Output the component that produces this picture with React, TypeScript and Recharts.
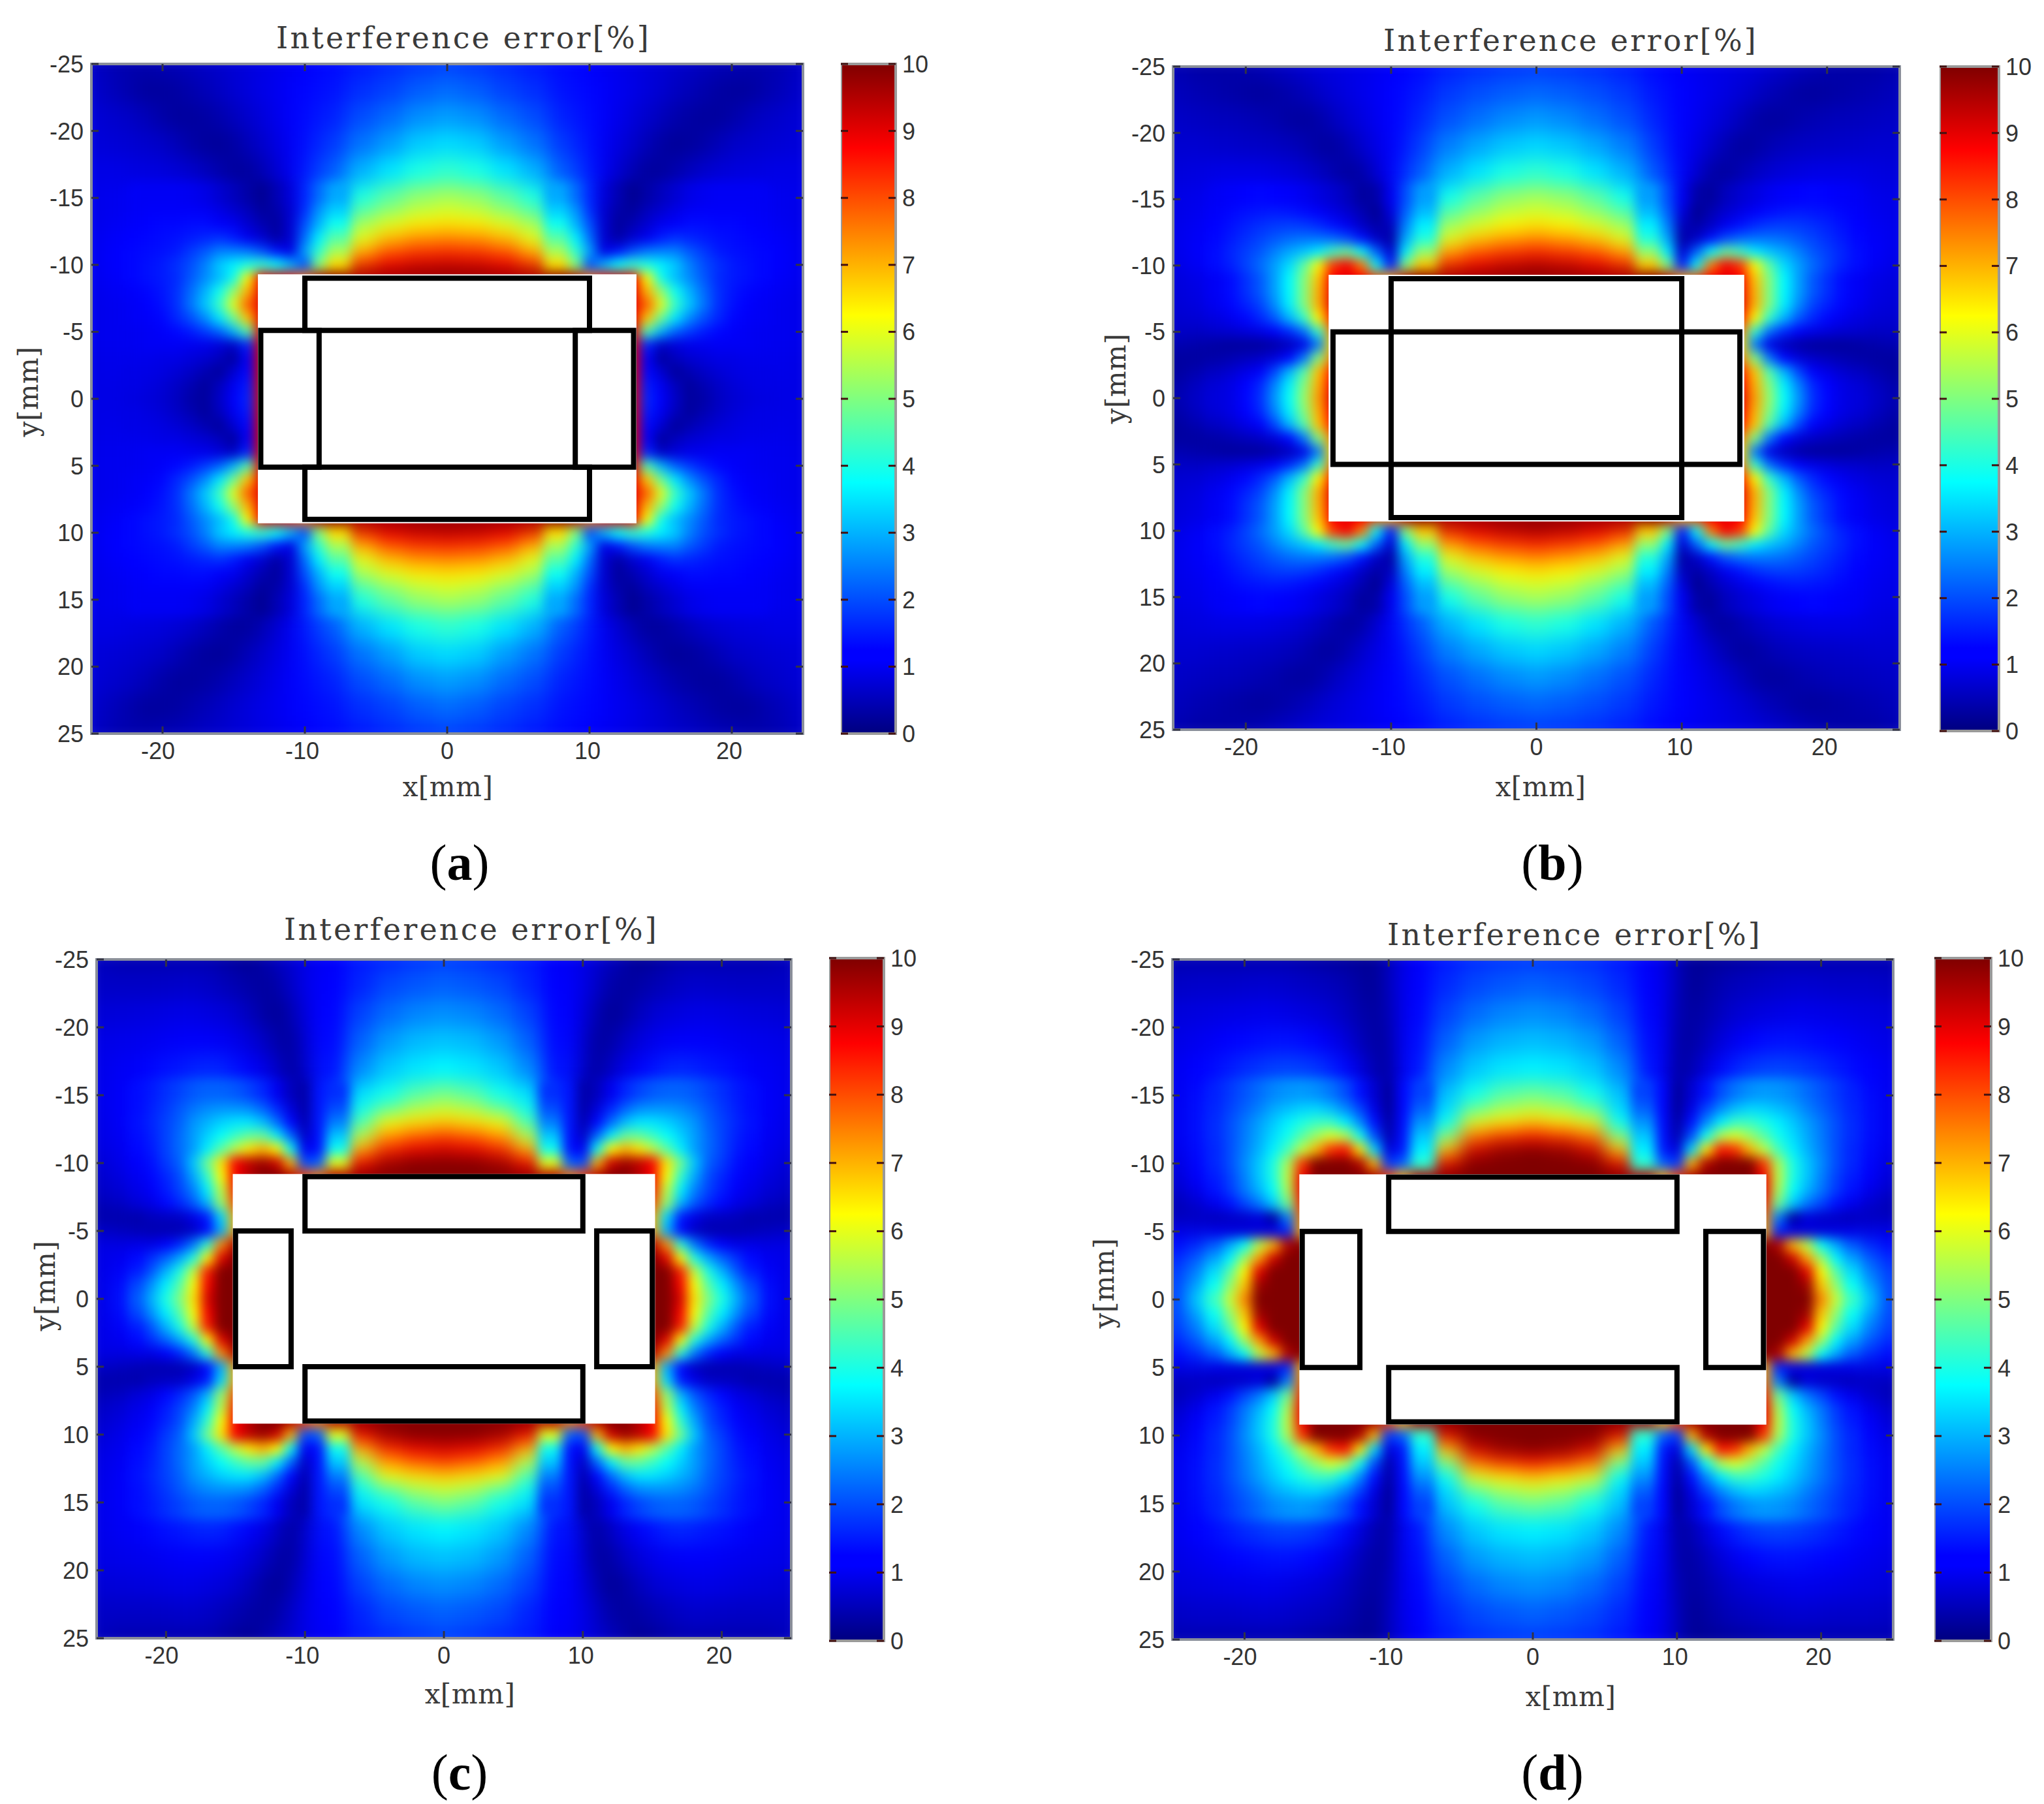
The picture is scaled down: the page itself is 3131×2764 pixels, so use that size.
import React from 'react';
import { ScatterChart, Scatter, XAxis, YAxis, ReferenceArea, BarChart, Bar } from 'recharts';

const xGrid = [-25,-23,-22,-21,-20,-19,-18,-17,-16,-15,-14,-13,-12,-11,-10,-9,-8,-6,-4,-2,0];
const yGrid = [-25,-23,-21,-19,-17,-15,-14,-13,-12,-11,-10,-9,-8,-7,-6,-5,-4,-3,-2,-1,0];
const xTickValues = [-20,-10,0,10,20];
const yTickValues = [-25,-20,-15,-10,-5,0,5,10,15,20,25];
const barTickValues = [0,1,2,3,4,5,6,7,8,9,10];
const titleText = 'Interference error[%]';

// Upper-left quadrant of each panel. Short rows end under the white mask.
const errorA = [
[.7,.5,.45,.45,.5,.55,.6,.7,.75,.85,.9,1.0,1.05,1.15,1.2,1.3,1.35,1.5,1.65,1.8,1.9],
[.75,.55,.4,.3,.3,.35,.45,.55,.65,.8,.9,1.0,1.1,1.2,1.3,1.35,1.45,1.7,1.9,2.15,2.3],
[.85,.75,.65,.55,.4,.3,.3,.35,.45,.6,.75,.9,1.05,1.2,1.35,1.45,1.6,2.0,2.3,2.65,2.8],
[.9,.85,.8,.75,.7,.55,.4,.3,.25,.35,.55,.75,.95,1.15,1.4,1.6,1.85,2.4,2.8,3.25,3.4],
[1.0,1.0,.95,.95,.9,.85,.75,.6,.45,.3,.3,.5,.8,1.1,1.5,1.85,2.2,3.0,3.5,4.0,4.2],
[1.05,1.1,1.15,1.15,1.15,1.15,1.1,1.0,.8,.6,.4,.2,.5,.9,1.6,2.3,2.9,4.0,4.6,5.1,5.3],
[1.05,1.1,1.15,1.2,1.2,1.2,1.2,1.15,1.0,.8,.6,.3,.4,.8,1.7,2.7,3.3,4.6,5.2,5.7,5.9],
[1.05,1.15,1.2,1.25,1.3,1.3,1.35,1.35,1.2,1.1,.8,.5,.3,.8,2.0,3.0,3.9,5.4,6.0,6.4,6.5],
[1.1,1.2,1.25,1.3,1.35,1.4,1.5,1.6,1.7,1.5,1.1,.8,.4,.8,2.3,3.6,4.6,6.0,6.9,7.3,7.4],
[1.1,1.25,1.3,1.35,1.4,1.5,1.8,2.1,2.5,2.5,2.4,2.0,1.4,1.0,2.8,4.2,5.4,7.0,7.9,8.2,8.3],
[1.1,1.25,1.3,1.4,1.5,1.7,2.0,2.5,3.2,3.6,4.0,4.2,3.8,3.0,2.0,5.0,6.6,8.3,8.9,9.2,9.3],
[1.1,1.2,1.3,1.4,1.5,1.65,2.1,2.6,3.1,3.9,6.2,8.8,9,8.5,7.5,9.5,10],
[1.05,1.15,1.2,1.3,1.45,1.7,2.3,3.0,3.9,5.2,7.0,9],
[1.05,1.1,1.15,1.25,1.4,1.7,2.4,3.2,4.3,6.0,7.8,9],
[1.05,1.1,1.15,1.2,1.3,1.6,2.0,2.6,3.5,4.8,6.8,9],
[1.05,1.1,1.1,1.15,1.2,1.3,1.5,1.8,2.2,3.0,4.5,9],
[1.05,1.1,1.1,1.15,1.15,1.15,1.1,1.05,.9,.7,1.6,9],
[1.0,1.05,1.05,1.05,1.0,1.0,.9,.8,.6,.3,1.2,9],
[1.0,1.05,1.0,1.0,.95,.85,.7,.5,.3,.8,1.3,9],
[1.0,1.0,1.0,.95,.85,.7,.5,.3,.6,1.1,1.5,9],
[1.0,1.0,.95,.9,.8,.65,.4,.3,.7,1.2,1.6,9],
];
const errorB = [
[.5,.4,.4,.4,.45,.5,.6,.7,.8,.9,.95,1.0,1.05,1.1,1.2,1.25,1.35,1.55,1.7,1.8,1.85],
[.6,.5,.45,.4,.35,.3,.35,.45,.55,.7,.85,.95,1.05,1.15,1.25,1.35,1.5,1.8,2.0,2.15,2.25],
[.7,.65,.6,.6,.55,.5,.45,.35,.3,.4,.6,.8,.95,1.1,1.25,1.4,1.65,2.05,2.35,2.6,2.75],
[.8,.8,.75,.75,.7,.7,.65,.6,.5,.35,.3,.5,.75,1.0,1.2,1.5,1.9,2.5,2.9,3.2,3.35],
[.9,.95,1.0,1.0,1.0,1.0,.95,.9,.8,.65,.5,.3,.4,.8,1.2,1.7,2.2,3.0,3.5,4.0,4.2],
[1.0,1.05,1.15,1.2,1.25,1.3,1.25,1.2,1.1,.95,.8,.6,.3,.4,1.1,2.0,2.8,3.9,4.6,5.1,5.3],
[1.0,1.1,1.2,1.3,1.4,1.45,1.5,1.45,1.35,1.2,1.0,.8,.5,.2,.9,2.2,3.1,4.6,5.2,5.7,5.9],
[1.05,1.15,1.25,1.4,1.55,1.7,1.8,1.85,1.8,1.65,1.4,1.1,.7,.4,.6,2.5,3.6,5.3,5.9,6.3,6.5],
[1.05,1.2,1.3,1.5,1.7,1.9,2.1,2.3,2.4,2.4,2.3,2.0,1.4,.7,.4,2.9,4.1,6.0,6.8,7.2,7.4],
[1.05,1.2,1.35,1.6,1.85,2.1,2.5,2.9,3.2,3.6,4.4,4.8,3.8,2.2,.8,3.6,5.2,7.2,7.9,8.2,8.4],
[1.0,1.2,1.35,1.55,1.9,2.3,2.8,3.4,4.6,6.2,8.2,8.8,7.5,3.8,1.5,5,6.8,8.4,8.9,9.3,9.5],
[.9,1.0,1.15,1.35,1.7,2.1,2.8,3.7,5.0,6.8,8.8,9,8.8,8,7,9.4,10],
[.9,1.0,1.15,1.35,1.7,2.1,2.8,3.7,5.0,7.0,8.9,9],
[.85,.95,1.1,1.3,1.55,1.9,2.6,3.6,5.0,7.0,9],
[.8,.85,.95,1.1,1.3,1.6,2.1,3.0,4.2,6.3,8.5,9],
[.7,.7,.75,.8,.9,1.0,1.2,1.6,2.3,4.2,7.5,9],
[.5,.4,.35,.3,.3,.3,.4,.6,1.0,2.4,6.5,9],
[.3,.3,.4,.5,.6,.7,.9,1.3,2.4,5.0,7.5,9],
[.3,.5,.65,.8,1.0,1.2,1.9,3.0,4.5,6.8,8.5,9],
[.4,.7,.85,1.0,1.25,1.6,2.5,3.6,5.0,7.0,8.8,9],
[.5,.75,.9,1.0,1.3,1.7,2.7,3.8,5.2,7.2,9],
];
const errorC = [
[.6,.5,.5,.5,.5,.5,.5,.5,.4,.3,.2,.4,.6,.8,1.0,1.15,1.2,1.5,1.65,1.8,1.9],
[.7,.7,.7,.7,.72,.75,.75,.7,.6,.5,.4,.3,.4,.7,1.0,1.2,1.25,1.6,1.95,2.1,2.2],
[.85,.9,.92,.95,.98,1.0,1.0,.95,.9,.8,.6,.4,.2,.5,.9,1.25,1.3,1.9,2.3,2.55,2.65],
[1.0,1.05,1.08,1.1,1.15,1.2,1.2,1.2,1.15,1.05,.9,.7,.4,.3,.8,1.3,1.35,2.2,2.75,3.05,3.15],
[1.05,1.15,1.2,1.3,1.4,1.45,1.55,1.6,1.55,1.4,1.2,1.0,.7,.3,.7,1.4,1.45,2.6,3.2,3.5,3.65],
[1.05,1.2,1.35,1.5,1.7,1.9,2.1,2.2,2.2,2.1,1.9,1.6,1.1,.6,.4,1.45,1.7,3.4,3.9,4.5,4.8],
[1.05,1.2,1.35,1.55,1.8,2.1,2.4,2.6,2.7,2.7,2.6,2.2,1.6,.9,.4,1.45,2.0,3.9,4.7,5.5,5.8],
[1.0,1.2,1.4,1.6,1.9,2.2,2.7,3.0,3.3,3.5,3.5,3.1,2.3,1.3,.5,1.45,2.5,4.5,6.2,6.5,6.7],
[1.0,1.15,1.35,1.55,1.9,2.3,2.8,3.3,3.8,4.3,4.7,4.7,3.6,2.2,.7,1.4,3.2,5.5,7.2,7.8,8.1],
[.95,1.1,1.3,1.5,1.9,2.3,2.8,3.6,4.6,5.6,6.5,7.0,6.3,3.8,1.1,1.4,3.9,7.0,8.4,8.9,9.1],
[.85,1.05,1.2,1.4,1.8,2.2,3.2,4.8,6.5,8.8,9.4,9.7,9.2,7.0,2.0,2.2,6.0,8.8,9.7,10,10],
[.75,.95,1.1,1.3,1.6,2.0,2.9,4.2,6.2,8.8,9.5,10,10,9.5,8,7.5,9.5,10],
[.7,.85,1.0,1.2,1.5,1.9,2.5,3.6,5.6,8.5,9.5],
[.55,.7,.85,1.0,1.3,1.6,2.1,3.0,5.2,8.0,9.5],
[.4,.4,.45,.6,.65,.7,1.0,1.5,3.4,7,9.5],
[.7,.6,.55,.5,.5,.5,.7,1.3,3.0,7,9.5],
[1.0,1.0,1.0,1.0,1.2,1.6,2.4,4.1,7.4,9.5,10],
[1.0,1.1,1.3,1.7,2.2,2.9,4.0,6.3,9,10],
[1.0,1.2,1.5,2.1,3.0,4.0,5.7,8.5,10],
[1.0,1.35,1.9,2.7,3.6,4.6,6.2,8.8,10],
[1.0,1.4,2.1,3.0,4.0,5.0,6.5,9.1,10],
];
const errorD = [
[.5,.5,.5,.5,.5,.5,.5,.5,.45,.4,.35,.3,.25,.2,.6,1.0,1.2,1.5,1.7,1.8,1.85],
[.7,.75,.75,.75,.78,.8,.8,.75,.7,.65,.6,.5,.35,.2,.6,1.05,1.25,1.65,1.95,2.1,2.2],
[.9,.95,.98,1.0,1.02,1.05,1.05,1.0,.95,.9,.8,.65,.45,.3,.5,1.1,1.3,1.9,2.3,2.55,2.65],
[1.0,1.1,1.18,1.25,1.3,1.35,1.4,1.4,1.35,1.25,1.1,.9,.6,.35,.4,1.15,1.4,2.2,2.75,3.0,3.1],
[1.1,1.25,1.38,1.5,1.65,1.75,1.85,1.9,1.85,1.75,1.55,1.3,.9,.5,.3,1.2,1.5,2.6,3.2,3.5,3.6],
[1.1,1.35,1.55,1.8,2.05,2.3,2.55,2.7,2.75,2.65,2.4,2.0,1.4,.8,.3,1.3,1.9,3.1,3.9,4.5,4.7],
[1.1,1.4,1.6,1.9,2.2,2.5,2.9,3.1,3.3,3.35,3.1,2.6,1.9,1.0,.3,1.3,2.2,3.4,4.7,5.4,5.7],
[1.1,1.4,1.65,2.0,2.4,2.8,3.2,3.6,4.0,4.3,4.3,3.6,2.6,1.4,.4,1.35,2.7,3.8,6.0,6.4,6.7],
[1.1,1.4,1.65,2.0,2.45,2.9,3.4,3.9,4.6,5.3,5.9,5.5,3.9,2.0,.5,1.4,3.2,5.0,7.6,8.3,8.6],
[1.05,1.35,1.6,2.0,2.5,3.0,3.6,4.4,5.6,7.0,8.3,8.6,6.5,3.4,.9,1.5,3.6,6.8,9.2,9.8,10],
[.95,1.3,1.6,2.0,2.6,3.2,4.0,5.4,8.2,10,10,10,9.5,7.0,1.8,2.2,4.2,9.0,10],
[.85,1.25,1.5,1.9,2.5,3.2,4.0,5.6,8.8,10,10,10,10,9.6,8,7,9.5,10],
[.75,1.1,1.4,1.8,2.4,3.0,3.8,5.4,8.8,10],
[.5,.8,1.05,1.4,1.9,2.4,3.2,4.8,8.4,10],
[.6,.6,.6,.7,.75,.9,.3,2.5,7.5,10],
[1.0,1.0,1.0,.95,.9,.9,1.0,1.6,7,10],
[1.3,1.7,2.1,2.9,3.8,5.6,7.0,9.5,10],
[1.6,2.2,2.8,3.7,5.3,7.2,9.2,10],
[1.8,2.6,3.4,4.6,6.3,9,10],
[1.9,2.9,3.8,5.2,6.8,9.7,10],
[1.9,3.5,4.3,5.7,7.4,10],
];

// Magnet outlines and white mask of each panel, in mm: [x1, x2, y1, y2]
const maskA = [-13.3,13.3,-9.3,9.3];
const magnetsA = [[-10,10,-9,-5.1],[-10,10,5.1,9],[-13.1,-9,-5.1,5.1],[9,13.1,-5.1,5.1]];
const maskB = [-14.3,14.3,-9.3,9.3];
const magnetsB = [[-10,10,-9,-5],[-10,10,5,9],[-14,-10,-5,5],[10,14,-5,5]];
const maskC = [-15.2,15.2,-9.2,9.2];
const magnetsC = [[-10,10,-9,-5],[-10,10,5,9],[-15,-11,-5,5],[11,15,-5,5]];
const maskD = [-16.2,16.2,-9.2,9.2];
const magnetsD = [[-10,10,-9,-5],[-10,10,5,9],[-16,-12,-5,5],[12,16,-5,5]];

const jetStops = [[0,'#00007f'],[.11,'#0000ff'],[.125,'#0000ff'],[.375,'#00ffff'],[.625,'#ffff00'],[.875,'#ff0000'],[1,'#7f0000']];

const jet = (v: number) => {
  const t = Math.min(1, Math.max(0, v / 10));
  const c = (a: number) => Math.round(255 * Math.min(1, Math.max(0, a)));
  return `rgb(${c(Math.min(4*t-1.5,-4*t+4.5))},${c(Math.min(4*t-.5,-4*t+3.5))},${c(Math.min(4*t+.5,-4*t+2.5))})`;
};

const halfGap = (grid: number[], i: number) => [
  i > 0 ? (grid[i] - grid[i-1]) / 2 : (grid[1] - grid[0]) / 2,
  i < grid.length - 1 ? (grid[i+1] - grid[i]) / 2 : (grid[i] - grid[i-1]) / 2,
];

const buildCells = (rows: number[][]) => {
  const out: any[] = [];
  yGrid.forEach((y, yi) => {
    const row = rows[yi];
    xGrid.forEach((x, xi) => {
      const v = row[xi] ?? row[row.length - 1];
      const [xa, xb] = halfGap(xGrid, xi);
      const [ya, yb] = halfGap(yGrid, yi);
      const xSigns = x === 0 ? [1] : [1, -1];
      const ySigns = y === 0 ? [1] : [1, -1];
      xSigns.forEach((sx) => ySigns.forEach((sy) => {
        out.push({ x: sx * x, y: sy * y, v,
          l: sx === 1 ? xa : xb, r: sx === 1 ? xb : xa,
          t: sy === 1 ? ya : yb, b: sy === 1 ? yb : ya });
      }));
    });
  });
  return out;
};

const monoText: React.CSSProperties = { fontFamily: '"DejaVu Serif", serif', color: '#3a3a3a', position: 'absolute', whiteSpace: 'pre', transform: 'translate(-50%,-50%)', lineHeight: 1 };
const captionText: React.CSSProperties = { ...monoText, fontFamily: '"Liberation Serif", serif', color: '#000' };
const tickFont = { fontFamily: '"Liberation Sans", Arial, sans-serif', fontSize: 36, fill: '#333' };
const LEFT = 110, TOP = 24, BOTTOM = 70, RIGHT = 16;

const labelShift = (v: number) => (v === -20 ? -7 : v === -10 ? -4 : v === 10 ? -3 : v === 20 ? -4 : 0);

function Panel({ p }: { p: any }) {
  const sx = p.w / 50, sy = p.h / 50;
  const cells = buildCells(p.rows);
  const fineCells = cells.filter((c: any) => Math.abs(c.x) >= 8 && Math.abs(c.x) <= 22 && Math.abs(c.y) <= 15);
  const Cell = (props: any) => {
    const d = props.payload;
    if (props.cx == null) return null;
    return <rect x={props.cx - d.l * sx - 0.5} y={props.cy - d.t * sy - 0.5} width={(d.l + d.r) * sx + 1} height={(d.t + d.b) * sy + 1} fill={jet(d.v)} shapeRendering="crispEdges" />;
  };
  const XTick = (props: any) => (
    <g>
      <line x1={props.x} x2={props.x} y1={TOP + p.h} y2={TOP + p.h - 11} stroke="#334" strokeWidth={3} />
      <line x1={props.x} x2={props.x} y1={TOP} y2={TOP + 11} stroke="#334" strokeWidth={3} />
      <text x={props.x + labelShift(props.payload.value)} y={TOP + p.h + 39} textAnchor="middle" {...tickFont}>{props.payload.value}</text>
    </g>
  );
  const YTick = (props: any) => (
    <g>
      <line x1={LEFT} x2={LEFT + 11} y1={props.y} y2={props.y} stroke="#334" strokeWidth={3} />
      <line x1={LEFT + p.w} x2={LEFT + p.w - 11} y1={props.y} y2={props.y} stroke="#334" strokeWidth={3} />
      <text x={LEFT - 12} y={props.y + 13} textAnchor="end" {...tickFont}>{props.payload.value}</text>
    </g>
  );
  const BarTick = (props: any) => (
    <g>
      <line x1={0} x2={11} y1={props.y} y2={props.y} stroke="#411" strokeWidth={3} />
      <line x1={p.bw} x2={p.bw - 11} y1={props.y} y2={props.y} stroke="#411" strokeWidth={3} />
      <text x={p.bw + 10} y={props.y + 13} textAnchor="start" {...tickFont}>{props.payload.value}</text>
    </g>
  );
  const gid = `jet-${p.id}`;
  return (
    <>
      <div style={{ position: 'absolute', left: p.x - LEFT, top: p.y - TOP }}>
        <ScatterChart width={p.w + LEFT + RIGHT} height={p.h + TOP + BOTTOM} margin={{ left: 0, right: RIGHT, top: TOP, bottom: 0 }}>
          <XAxis type="number" dataKey="x" domain={[-25, 25]} ticks={xTickValues} allowDataOverflow height={BOTTOM} axisLine={false} tickLine={false} tick={XTick} interval={0} />
          <YAxis type="number" dataKey="y" domain={[-25, 25]} ticks={yTickValues} allowDataOverflow reversed width={LEFT} axisLine={false} tickLine={false} tick={YTick} interval={0} />
          <Scatter className="heat-wide" data={cells} shape={Cell} isAnimationActive={false} />
          <Scatter className="heat-fine" data={fineCells} shape={Cell} isAnimationActive={false} />
          <ReferenceArea x1={p.mask[0]} x2={p.mask[1]} y1={p.mask[2]} y2={p.mask[3]} fill="#fff" fillOpacity={1} stroke="none" zIndex={1000} />
          {p.magnets.map((m: number[], i: number) => (
            <ReferenceArea key={i} x1={m[0]} x2={m[1]} y1={m[2]} y2={m[3]} fill="none" stroke="#000" strokeWidth={8} zIndex={1001} />
          ))}
          <ReferenceArea x1={-25} x2={25} y1={-25} y2={25} fill="none" stroke="#8a8f9a" strokeWidth={4} zIndex={1002} />
        </ScatterChart>
      </div>
      <div style={{ position: 'absolute', left: p.bx, top: p.by - TOP }}>
        <BarChart width={p.bw + 80} height={p.bh + 2 * TOP} data={[{ name: 'scale', v: 10 }]} margin={{ left: 0, right: 0, top: TOP, bottom: TOP }} barCategoryGap={0}>
          <defs>
            <linearGradient id={gid} x1="0" y1="1" x2="0" y2="0">
              {jetStops.map((s, i) => <stop key={i} offset={s[0] as number} stopColor={s[1] as string} />)}
            </linearGradient>
          </defs>
          <XAxis dataKey="name" hide />
          <YAxis orientation="right" type="number" domain={[0, 10]} ticks={barTickValues} width={80} axisLine={false} tickLine={false} tick={BarTick} interval={0} />
          <Bar dataKey="v" fill={`url(#${gid})`} stroke="#9a9a9a" strokeWidth={4} isAnimationActive={false} />
        </BarChart>
      </div>
      <div style={{ ...monoText, left: p.tx, top: p.ty, fontSize: 46, letterSpacing: 3.2 }}>{titleText}</div>
      <div style={{ ...monoText, left: p.lx, top: p.ly, fontSize: 42, letterSpacing: 0.5 }}>x[mm]</div>
      <div style={{ ...monoText, left: p.yx, top: p.yy, fontSize: 42, letterSpacing: 0.5, transform: 'translate(-50%,-50%) rotate(-90deg)' }}>y[mm]</div>
      <div style={{ ...captionText, left: p.cx, top: p.cy, fontSize: 78 }}>(<b>{p.id}</b>)</div>
    </>
  );
}

const panels = [
  { id: 'a', rows: errorA, mask: maskA, magnets: magnetsA, x: 140, y: 98, w: 1090, h: 1026, bx: 1288, by: 98, bw: 84, bh: 1026, tx: 710, ty: 58, lx: 686, ly: 1206, yx: 44, yy: 600, cx: 704, cy: 1322 },
  { id: 'b', rows: errorB, mask: maskB, magnets: magnetsB, x: 1797, y: 102, w: 1113, h: 1016, bx: 2971, by: 102, bw: 91, bh: 1018, tx: 2406, ty: 62, lx: 2360, ly: 1206, yx: 1710, yy: 580, cx: 2378, cy: 1322 },
  { id: 'c', rows: errorC, mask: maskC, magnets: magnetsC, x: 148, y: 1470, w: 1064, h: 1040, bx: 1270, by: 1468, bw: 84, bh: 1046, tx: 722, ty: 1424, lx: 720, ly: 2596, yx: 70, yy: 1970, cx: 704, cy: 2716 },
  { id: 'd', rows: errorD, mask: maskD, magnets: magnetsD, x: 1796, y: 1470, w: 1104, h: 1042, bx: 2963, by: 1468, bw: 87, bh: 1046, tx: 2412, ty: 1432, lx: 2406, ly: 2600, yx: 1692, yy: 1966, cx: 2378, cy: 2716 },
];

export default function App() {
  return (
    <div style={{ position: 'absolute', left: 0, top: 0, width: 3131, height: 2764, background: '#fff', overflow: 'hidden' }}>
      <style>{`.heat-wide { filter: blur(14px); } .heat-fine { filter: blur(9px); }`}</style>
      {panels.map((p) => <Panel key={p.id} p={p} />)}
    </div>
  );
}
